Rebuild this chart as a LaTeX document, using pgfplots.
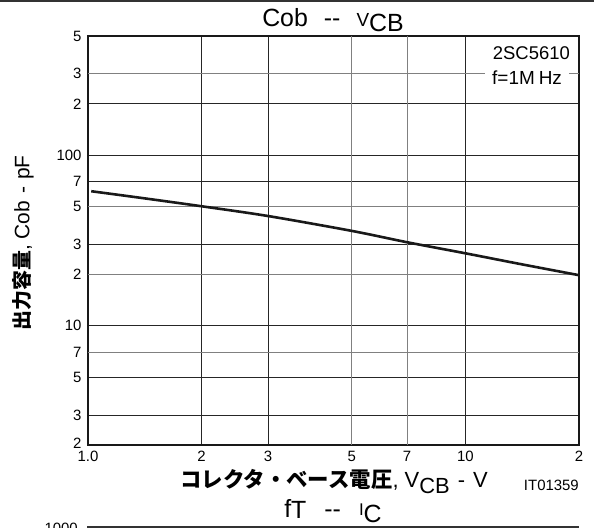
\documentclass[border=0pt]{standalone}
\usepackage{fontspec}
\setmainfont{Liberation Sans}
\newfontfamily\cjk{Noto Sans CJK JP}
\usepackage{pgfplots}
\pgfplotsset{compat=1.18}
\newcommand{\fs}[1]{\fontsize{#1}{#1}\selectfont}
\begin{document}
\begin{tikzpicture}
\path[use as bounding box] (-88bp,-83bp) rectangle (506bp,445bp);
\begin{axis}[
  at={(0,0)}, anchor=south west,
  scale only axis, width=491bp, height=409bp,
  xmode=log, ymode=log,
  xmin=1, xmax=20, ymin=2, ymax=500,
  xtick={1,2,3,10,20},
  xticklabels={\raisebox{-3bp}{1.0},2,3,\raisebox{-3bp}{10},2},
  extra x ticks={5,7}, extra x tick labels={5,7},
  ytick={2,3,5,10,30,70,100,200,500},
  yticklabels={\raisebox{4bp}{2},3,5,10,3,7,100,2,\raisebox{-4bp}{5}},
  extra y ticks={7,20,50,300}, extra y tick labels={7,2,5,3},
  major tick length=0pt,
  grid=major,
  major grid style={black!85, line width=0.8bp},
  extra tick style={grid=major, major grid style={black!50, line width=0.8bp}},
  axis line style={line width=1.8bp, black!90},
  tick label style={font=\fs{15}},
  yticklabel style={xshift=-3bp},
  xticklabel style={yshift=-3bp},
  log basis x=10, log basis y=10,
]
\addplot[smooth, line width=2.6bp, black!90] coordinates {
  (1.02,61.5) (1.4,56) (2,50.2) (3,44) (5,36) (7,30.9) (10,26.6) (14,23) (20,19.8)
};
\end{axis}
% top border
\draw[line width=2bp, black!80] (-88bp,444bp) -- (506bp,444bp);
% title
\node[anchor=base, inner sep=0pt] at (245bp,418bp)
  {\fs{25}Cob\hspace{16bp}-{}-\hspace{16bp}{\fs{19}V}\raisebox{-5bp}{\fs{25}CB}};
% annotations
\node[anchor=base east, inner sep=0pt] at (482bp,385bp) {\fs{18.5}2SC5610};
\node[anchor=base west, fill=white, inner xsep=7bp, inner ysep=1bp] at (397bp,360bp) {\fs{19}f=1M\kern4bp Hz};
% x label
\node[anchor=base, inner sep=0pt] at (246bp,-42bp)
  {{\cjk\bfseries\fs{21.5}コレクタ・ベース電圧}\fs{22}, V\raisebox{-6bp}{CB}\hspace{8bp}-\hspace{8bp}V};
\node[anchor=base east, inner sep=0pt] at (491bp,-45bp) {\fs{15}IT01359};
% y label
\node[rotate=90, inner sep=0pt] at (-65bp,202bp)
  {{\cjk\bfseries\fs{20}出力容量}\fs{21}, Cob\hspace{7bp}-\hspace{7bp}pF};
% next chart remnants
\node[anchor=base, inner sep=0pt] at (245bp,-72bp)
  {\fs{25}f\raisebox{-1bp}{T}\hspace{18bp}-{}-\hspace{18bp}\raisebox{2bp}{\fs{17}I}\raisebox{-5bp}{\fs{25}C}};
\node[anchor=base east, inner sep=0pt] at (-10bp,-88bp) {\fs{15}1000};
\draw[line width=1.2bp, black!80] (-1bp,-82bp) -- (491bp,-82bp);
\end{tikzpicture}
\end{document}
